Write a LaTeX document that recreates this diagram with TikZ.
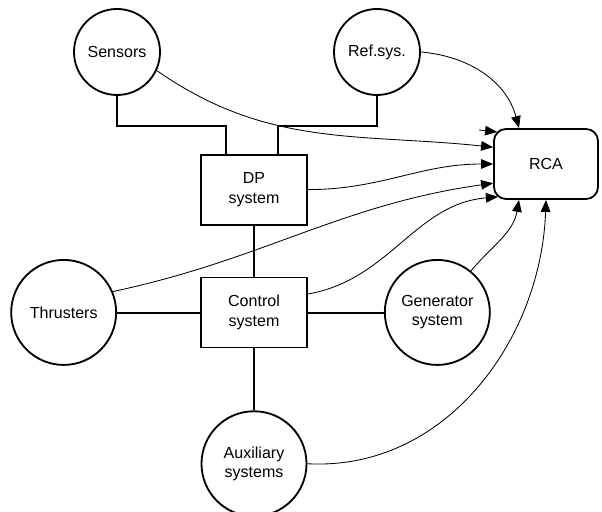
\documentclass[tikz,border=0pt]{standalone}
\usepackage{fontspec}
\setmainfont{Liberation Sans}
\usetikzlibrary{arrows.meta,calc,positioning,shapes.geometric}
\tikzset{
  block/.style={
    draw,
    line width=1.3pt,
    align=center,
    minimum width=26.5mm,
    minimum height=17.5mm,
    inner sep=1pt
  },
  unit/.style={
    draw,
    circle,
    line width=1.3pt,
    align=center,
    minimum size=26.25mm,
    inner sep=0pt
  },
  smallunit/.style={
    unit,
    minimum size=21.5mm
  },
  terminator/.style={
    draw,
    rounded corners=3mm,
    line width=1.3pt,
    align=center,
    minimum width=26mm,
    minimum height=17.5mm
  },
  bus/.style={
    line width=1.5pt
  },
  line/.style={
    -{Triangle[length=3mm,width=2.4mm]},
    line width=0.6pt
  }
}

\begin{document}
\begin{tikzpicture}[font=\fontsize{11.4}{13.7}\selectfont, node distance=12.75mm and 20mm]
  \useasboundingbox (0,0) rectangle (15.05,12.8);
  \node[block] (dp) at (6.35,8.06) {DP\\system};
  \node[block, below=12.75mm of dp] (control) {Control\\system};
  \node[unit, left=20.75mm of control] (thrusters) {Thrusters};
  \node[unit, right=19mm of control] (generator) {Generator\\system};
  \node[unit, below=15.5mm of control] (aux) {Auxiliary\\systems};
  \node[smallunit] (sensors) at (2.925,11.5) {Sensors};
  \node[smallunit] (refsys) at (9.425,11.5) {Ref.sys.};
  \node[terminator] (rca) at (13.65,8.7) {RCA};
  \coordinate (stub) at ($(rca.west)+(-0.35,0.85)$);

  \draw[bus] (sensors.south) -- ++(0,-0.75) -| ([xshift=-7mm]dp.north);
  \draw[bus] (refsys.south) -- ++(0,-0.75) -| ([xshift=6mm]dp.north);
  \draw[bus] (dp) -- (control);
  \draw[bus] ([yshift=-0.2mm]thrusters.east) -- ([yshift=-0.2mm]control.west);
  \draw[bus] ([yshift=-0.2mm]control.east) -- ([yshift=-0.2mm]generator.west);
  \draw[bus] (control) -- (aux);

  \draw[line] (stub) -- ($(rca.west)+(0.1,0.8)$);
  \draw[line] (sensors.-25) to[out=-35, in=174] ($(rca.west)+(0,0.42)$);
  \draw[line] (refsys.east) to[out=-5, in=105] ([xshift=-6.75mm]rca.north);
  \draw[line] (dp.east) to[out=0, in=180] (rca.west);
  \draw[line] (thrusters.23) to[out=12, in=188] ($(rca.west)+(0,-0.48)$);
  \draw[line] ([yshift=4.6mm]control.east) to[out=10, in=185] ($(rca.west)+(0.12,-0.82)$);
  \draw[line] (generator.51) to[out=50, in=-100] ([xshift=-6.75mm]rca.south);
  \draw[line] (aux.east) to[out=-3, in=-92] (rca.south);
\end{tikzpicture}
\end{document}
